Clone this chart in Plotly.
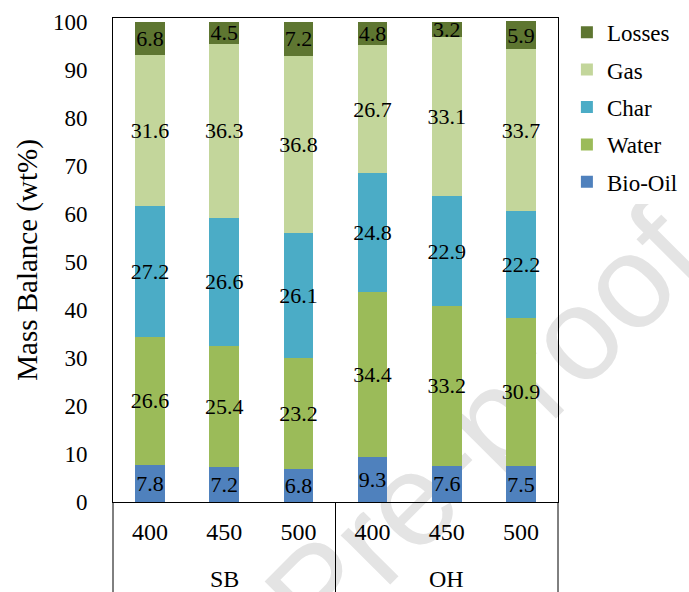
import plotly.graph_objects as go

# Feedstock groups and pyrolysis temperatures (°C)
feedstocks = ["SB", "OH"]
temperatures = ["400", "450", "500", "400", "450", "500"]

# Product yields (wt%)
bio_oil = [7.8, 7.2, 6.8, 9.3, 7.6, 7.5]
water = [26.6, 25.4, 23.2, 34.4, 33.2, 30.9]
char = [27.2, 26.6, 26.1, 24.8, 22.9, 22.2]
gas = [31.6, 36.3, 36.8, 26.7, 33.1, 33.7]
losses = [6.8, 4.5, 7.2, 4.8, 3.2, 5.9]

series = [
    ("Bio-Oil", bio_oil, "#4F81BD"),
    ("Water", water, "#9BBB59"),
    ("Char", char, "#4BACC6"),
    ("Gas", gas, "#C3D69B"),
    ("Losses", losses, "#5E7631"),
]

FONT = "Liberation Serif, Times New Roman, Tinos, serif"
positions = list(range(len(temperatures)))
per_group = len(temperatures) // len(feedstocks)

fig = go.Figure()
for i, (name, vals, color) in enumerate(series):
    fig.add_trace(go.Bar(
        name=name,
        legendgroup=name,
        legendrank=len(series) - i,  # top segment listed first
        x=positions,
        y=vals,
        width=0.4,
        marker=dict(color=color, line=dict(width=0)),
        text=[f"{v:.1f}" for v in vals],
        textposition="inside",
        insidetextanchor="middle",
        textangle=0,
        constraintext="none",
        textfont=dict(family=FONT, size=22, color="black"),
        cliponaxis=False,
    ))

# depth of the category table below the plot, in paper units
table_bottom = -90 / 484

shapes = []
# outer and group-separating lines of the category table
for xr, xv in [("paper", 0), ("paper", 1), ("x", per_group - 0.5)]:
    shapes.append(dict(
        type="line", xref=xr, yref="paper",
        x0=xv, x1=xv, y0=0, y1=table_bottom,
        line=dict(color="black", width=1),
    ))
# watermark behind the bars
shapes.append(dict(
    type="rect", xref="paper", yref="paper",
    x0=0.7925, x1=0.8325, y0=0.155, y1=0.195,
    line=dict(width=0), fillcolor="rgba(0,0,0,0)",
    layer="below",
    label=dict(
        text="Pre-proof",
        textangle=-45,
        textposition="middle center",
        font=dict(family="Liberation Sans, Arial, sans-serif", size=132, color="#E4E4E4"),
    ),
))

annotations = []
for gi, grp in enumerate(feedstocks):
    annotations.append(dict(
        text=grp, xref="x", yref="paper",
        x=gi * per_group + (per_group - 1) / 2, y=-77 / 484,
        xanchor="center", yanchor="middle", showarrow=False,
        font=dict(family=FONT, size=24, color="black"),
    ))

fig.update_layout(
    barmode="stack",
    width=689,
    height=592,
    margin=dict(l=113, r=131, t=18, b=90, autoexpand=False),
    paper_bgcolor="white",
    plot_bgcolor="rgba(0,0,0,0)",
    font=dict(family=FONT, size=22, color="black"),
    legend=dict(
        traceorder="grouped",
        x=1.020, y=1.015, xanchor="left", yanchor="top",
        font=dict(family=FONT, size=23),
        tracegroupgap=4.5,
        itemwidth=30,
    ),
    yaxis=dict(
        range=[0, 100.83],
        dtick=10,
        showgrid=False,
        zeroline=False,
        ticks="",
        ticklabelstandoff=20,
        tickfont=dict(family=FONT, size=23),
        showline=True, linecolor="black", linewidth=1, mirror=True,
        title=dict(text="Mass Balance (wt%)", font=dict(family=FONT, size=29), standoff=6),
    ),
    xaxis=dict(
        range=[-0.5, len(temperatures) - 0.5],
        tickmode="array",
        tickvals=positions,
        ticktext=temperatures,
        showgrid=False,
        zeroline=False,
        ticks="",
        ticklabelstandoff=8,
        tickfont=dict(family=FONT, size=24),
        showline=True, linecolor="black", linewidth=1, mirror=True,
    ),
    shapes=shapes,
    annotations=annotations,
)

fig.write_html("out.html")
